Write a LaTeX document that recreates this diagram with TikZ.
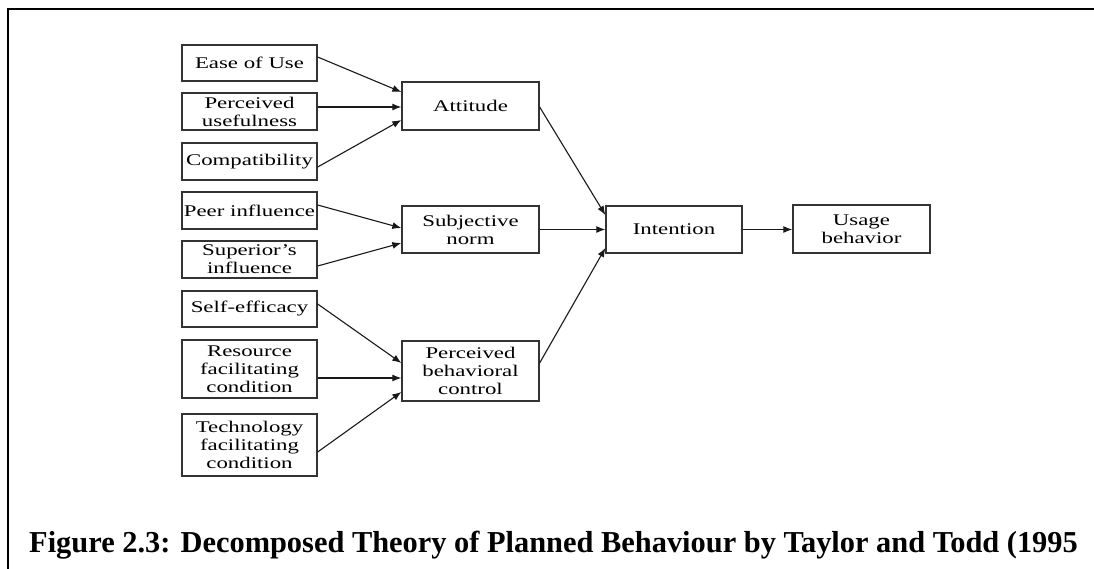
\documentclass[tikz,border=0pt]{standalone}
\usepackage{fontspec}
\setmainfont{Liberation Serif}
\newfontfamily\boxfont[FakeStretch=1.4]{Liberation Serif}
\usetikzlibrary{arrows.meta}
\tikzset{
  box/.style={draw=black!80, line width=1.3pt, rectangle, align=center, inner sep=1pt,
    font=\boxfont\fontsize{16.3}{18}\selectfont, text=black},
  lbox/.style={box, minimum width=135pt},
  mbox/.style={box, minimum width=137pt},
  arr/.style={-{Latex[length=9pt,width=7pt]}, line width=1.1pt, draw=black!90},
  frame/.style={line width=1.8pt, draw=black},
}
\begin{document}
\begin{tikzpicture}[x=1pt,y=-1pt]
\useasboundingbox (0,0) rectangle (1094,569);
\fill[white] (0,0) rectangle (1094,569);
% frame
\coordinate (fbl) at (8,569);
\coordinate (ftl) at (8,9);
\coordinate (ftr) at (1094,9);
\draw[frame] (fbl) -- (ftl) -- (ftr);

% left column
\node[lbox, minimum height=36pt] (eou) at (249.5,63) {Ease of Use};
\node[lbox, minimum height=37pt] (pu) at (249.5,111.5) {Perceived\\usefulness};
\node[lbox, minimum height=37pt] (comp) at (249.5,161.5) {Compatibility};
\node[lbox, minimum height=37pt] (peer) at (249.5,210.5) {Peer influence};
\node[lbox, minimum height=37pt] (sup) at (249.5,259.5) {Superior’s\\influence};
\node[lbox, minimum height=36pt] (self) at (249.5,309) {Self-efficacy};
\node[lbox, minimum height=58pt] (res) at (249.5,369) {Resource\\facilitating\\condition};
\node[lbox, minimum height=62pt] (tech) at (249.5,445) {Technology\\facilitating\\condition};

% middle column
\node[mbox, minimum height=48pt] (att) at (470.5,106) {Attitude};
\node[mbox, minimum height=47pt] (sn) at (470.5,229.5) {Subjective\\norm};
\node[mbox, minimum height=60pt] (pbc) at (470.5,371) {Perceived\\behavioral\\control};

% right
\node[box, minimum width=136pt, minimum height=47pt] (int) at (674,229.5) {Intention};
\node[mbox, minimum height=48pt] (use) at (861.5,229) {Usage\\behavior};

% arrows to attitude
\draw[arr] ([yshift=6pt]eou.east) -- ([yshift=14pt]att.west);
\draw[arr] ([yshift=4.5pt]pu.east) -- ([yshift=-1pt]att.west);
\draw[arr] ([yshift=-5.5pt]comp.east) -- ([yshift=-14pt]att.west);
% arrows to subjective norm
\draw[arr] ([yshift=5.5pt]peer.east) -- ([yshift=1.5pt]sn.west);
\draw[arr] ([yshift=-6.5pt]sup.east) -- ([yshift=-13.5pt]sn.west);
% arrows to PBC
\draw[arr] ([yshift=5pt]self.east) -- ([yshift=8pt]pbc.west);
\draw[arr] ([yshift=-9pt]res.east) -- ([yshift=-7pt]pbc.west);
\draw[arr] ([yshift=-7pt]tech.east) -- ([yshift=-21pt]pbc.west);
% to intention
\draw[arr] ([yshift=-1pt]att.east) -- ([yshift=14.5pt]int.west);
\draw[arr] (sn.east) -- (int.west);
\draw[arr] ([yshift=8pt]pbc.east) -- ([yshift=-18.5pt]int.west);
\draw[arr] (int.east) -- (use.west |- int.east);

% caption
\begin{scope}
\clip (0,0) rectangle (1076,569);
\node[anchor=base west, inner sep=0pt, font=\bfseries\fontsize{30.4}{36}\selectfont] (cap) at (29,552)
  {Figure 2.3: Decomposed Theory of Planned Behaviour by Taylor and Todd (1995)};
\end{scope}
\end{tikzpicture}
\end{document}
